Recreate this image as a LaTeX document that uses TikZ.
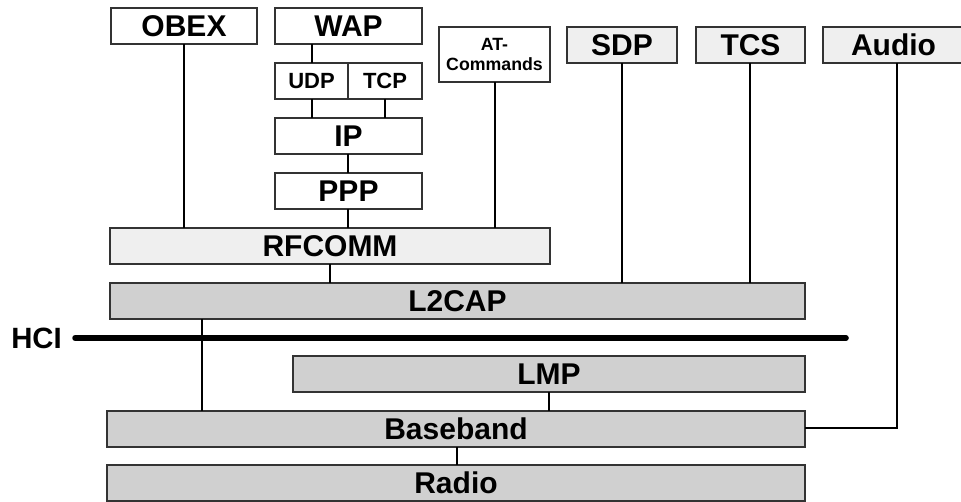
\documentclass[tikz,border=0pt]{standalone}
\usepackage{fontspec}
\setmainfont{Liberation Sans}
\definecolor{upperfill}{HTML}{EFEFEF}
\definecolor{lowerfill}{HTML}{D0D0D0}
\def\px{0.75pt}
\tikzset{
  layer/.style n args={2}{draw=black!80, line width=1pt, inner sep=0pt, outer sep=0pt,
    anchor=north west, minimum width=#1*\px, minimum height=#2*\px,
    font=\bfseries\fontsize{22.5}{24}\selectfont},
  plainbox/.style={layer={#1}{36}, fill=white},
  lightbox/.style={layer={#1}{36}, fill=upperfill},
  darkbox/.style={layer={#1}{36}, fill=lowerfill},
  small/.style={font=\bfseries\fontsize{16.5}{18}\selectfont},
  tiny/.style={font=\bfseries\fontsize{13.3}{15}\selectfont, align=center},
  link/.style={draw=black, line width=1.1pt},
  hcibar/.style={line width=4.2pt, line cap=round}
}
\begin{document}
\begin{tikzpicture}[x=0.75pt, y=-0.75pt]
\useasboundingbox (0,0) rectangle (961,502);

% upper protocols
\node[plainbox=146] (obex) at (111,8) {OBEX};
\node[plainbox=147] (wap) at (275,8) {WAP};
\node[plainbox=73, small] (udp) at (275,63) {UDP};
\node[plainbox=74, small] (tcp) at (348,63) {TCP};
\node[plainbox=147] (ip) at (275,118) {IP};
\node[plainbox=147] (ppp) at (275,173) {PPP};
\node[layer={111}{55}, fill=white, tiny] (at) at (439,27) {AT-\\Commands};
\node[lightbox=110] (sdp) at (567,27) {SDP};
\node[lightbox=109] (tcs) at (696,27) {TCS};
\node[lightbox=141] (audio) at (823,27) {Audio};

% transport layers
\node[layer={440}{36}, fill=upperfill] (rfcomm) at (110,228) {RFCOMM};
\node[darkbox=695] (l2cap) at (110,283) {L2CAP};
\node[darkbox=512] (lmp) at (293,356) {LMP};
\node[darkbox=698] (baseband) at (107,411) {Baseband};
\node[darkbox=698] (radio) at (107,465) {Radio};

% host controller interface
\node[font=\bfseries\fontsize{22}{24}\selectfont, anchor=west, inner sep=0pt] (hci) at (11,338) {HCI};
\coordinate (hciend) at (846,338);
\draw[hcibar] ([xshift=13*\px]hci.east) -- (hciend);

% connections
\draw[link] (wap.south -| 312,0) -- (udp.north -| 312,0);
\draw[link] (udp.south -| 312,0) -- (ip.north -| 312,0);
\draw[link] (tcp.south -| 385,0) -- (ip.north -| 385,0);
\draw[link] (ip.south -| 348,0) -- (ppp.north -| 348,0);
\draw[link] (ppp.south -| 348,0) -- (rfcomm.north -| 348,0);
\draw[link] (obex.south -| 184,0) -- (rfcomm.north -| 184,0);
\draw[link] (at.south -| 495,0) -- (rfcomm.north -| 495,0);
\draw[link] (rfcomm.south -| 330,0) -- (l2cap.north -| 330,0);
\draw[link] (sdp.south -| 622,0) -- (l2cap.north -| 622,0);
\draw[link] (tcs.south -| 750,0) -- (l2cap.north -| 750,0);
\draw[link] (l2cap.south -| 202,0) -- (baseband.north -| 202,0);
\draw[link] (lmp.south -| 549,0) -- (baseband.north -| 549,0);
\draw[link] (baseband.south -| 457,0) -- (radio.north -| 457,0);
\draw[link] (audio.south -| 897,0) |- (baseband.east |- 0,428);
\end{tikzpicture}
\end{document}
